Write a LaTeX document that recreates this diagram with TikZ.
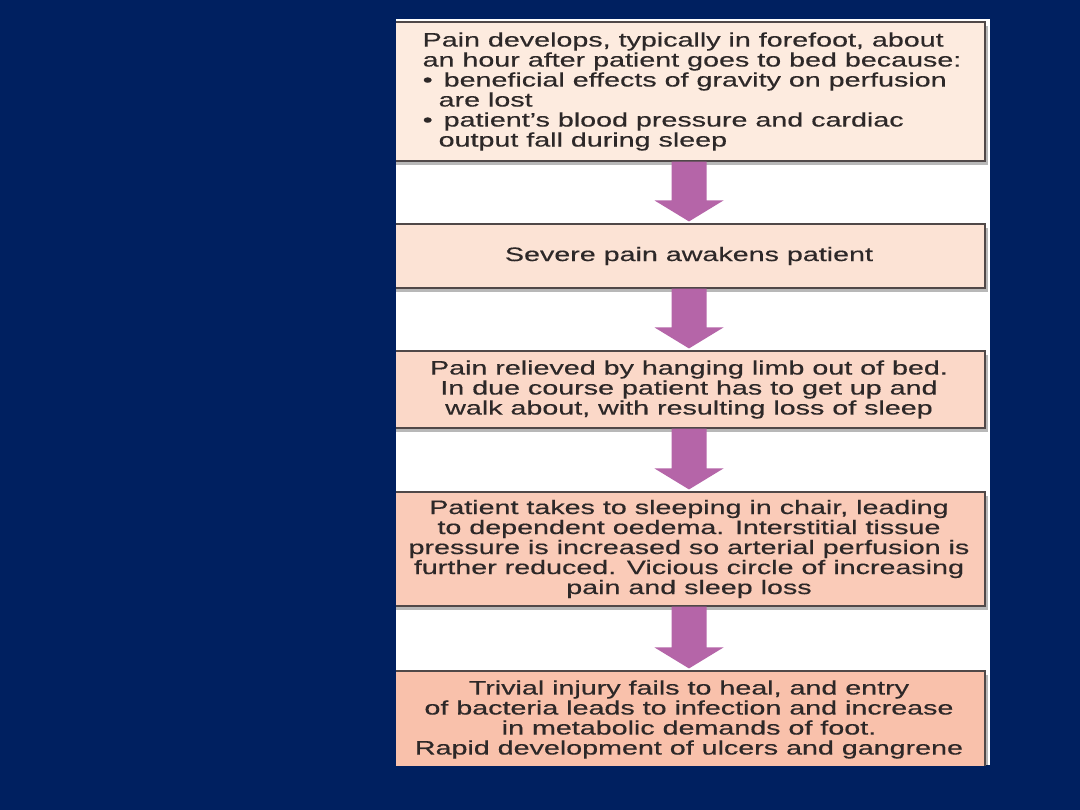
\documentclass[tikz,border=0pt]{standalone}
\usepackage{fontspec}
\setmainfont{Liberation Sans}[FakeStretch=1.47,FakeBold=0.4]
\usetikzlibrary{calc,shadows}
\definecolor{navy}{RGB}{0,32,96}
\definecolor{boxline}{RGB}{80,72,72}
\definecolor{txt}{RGB}{45,40,40}
\definecolor{arrowc}{RGB}{181,101,168}
\definecolor{fillA}{HTML}{FDEBDF}
\definecolor{fillB}{HTML}{FCE3D5}
\definecolor{fillC}{HTML}{FBD8C8}
\definecolor{fillD}{HTML}{FACBB8}
\definecolor{fillE}{HTML}{F9C1AB}
\newcommand\flowarrow[2]{%
  \fill[arrowc] ($(#1.south)+(-17.5,0)$) -- ($(#1.south)+(17.5,0)$)
    -- ($(#2.north)+(17.5,-23)$) -- ($(#2.north)+(34.5,-23)$)
    -- ($(#2.north)+(0,-2)$) -- ($(#2.north)+(-34.5,-23)$)
    -- ($(#2.north)+(-17.5,-23)$) -- cycle;}
\begin{document}
\begin{tikzpicture}[x=1pt,y=-1pt,
  box/.style={draw=boxline, line width=1.1pt, minimum width=592pt,
    inner sep=0pt, align=center, text=txt,
    font=\fontsize{19.5}{20}\selectfont,
    drop shadow={shadow xshift=3pt,shadow yshift=-4pt,opacity=0.28,fill=black}}]
\useasboundingbox (0,0) rectangle (1080,810);
\fill[navy] (0,0) rectangle (1080,810);
\fill[white] (396,19) rectangle (990,765);
\begin{scope}
\clip (396,19) rectangle (990,765);
\node[box, fill=fillA, minimum height=139pt, align=left] (b1) at (689,91.5)
  {\hspace*{6pt}Pain develops, typically in forefoot, about\\
   \hspace*{6pt}an hour after patient goes to bed because:\\
   \hspace*{6pt}•\hspace{11pt}beneficial effects of gravity on perfusion\\
   \hspace*{22pt}are lost\\
   \hspace*{6pt}•\hspace{11pt}patient’s blood pressure and cardiac\\
   \hspace*{22pt}output fall during sleep};
\node[box, fill=fillB, minimum height=64pt] (b2) at (689,256)
  {Severe pain awakens patient};
\node[box, fill=fillC, minimum height=77pt] (b3) at (689,389.5)
  {Pain relieved by hanging limb out of bed.\\
   In due course patient has to get up and\\
   walk about, with resulting loss of sleep};
\node[box, fill=fillD, minimum height=114pt] (b4) at (689,549)
  {Patient takes to sleeping in chair, leading\\
   to dependent oedema. Interstitial tissue\\
   pressure is increased so arterial perfusion is\\
   further reduced. Vicious circle of increasing\\
   pain and sleep loss};
\node[box, fill=fillE, minimum height=97pt] (b5) at (689,719.5)
  {Trivial injury fails to heal, and entry\\
   of bacteria leads to infection and increase\\
   in metabolic demands of foot.\\
   Rapid development of ulcers and gangrene};
\flowarrow{b1}{b2}
\flowarrow{b2}{b3}
\flowarrow{b3}{b4}
\flowarrow{b4}{b5}
\end{scope}
\end{tikzpicture}
\end{document}
